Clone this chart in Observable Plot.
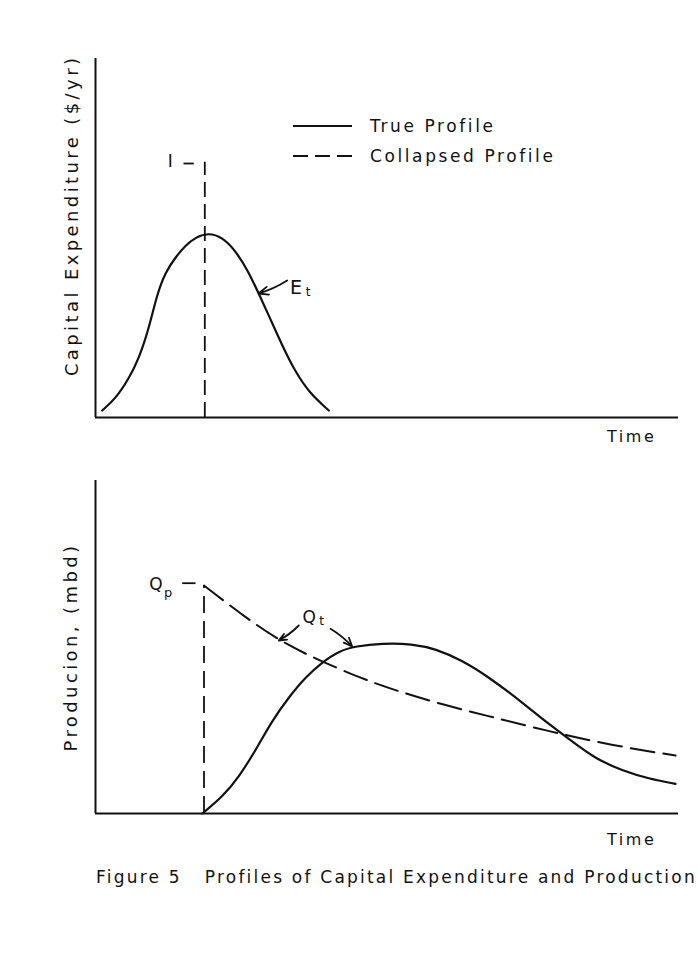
<!DOCTYPE html>
<html>
<head>
<meta charset="utf-8">
<script src="https://cdn.jsdelivr.net/npm/d3@7"></script>
<script src="https://cdn.jsdelivr.net/npm/@observablehq/plot@0.6"></script>
<style>
  html, body { margin: 0; padding: 0; background: #fff; }
  #wrap { position: relative; width: 699px; height: 970px; background: #fff; font-family: "DejaVu Sans", sans-serif; color: #111; }
  #top, #bottom { position: absolute; left: 0; }
  #top { top: 0; }
  #bottom { top: 460px; }
  #legend { position: absolute; left: 293px; top: 111px; font-size: 17px; letter-spacing: 2.6px; }
  #legend .row { display: flex; align-items: center; height: 30px; }
  #legend svg { margin-right: 18px; }
  #caption { position: absolute; left: 96px; top: 867px; font-size: 17px; letter-spacing: 2.22px; white-space: pre; }
</style>
</head>
<body>
<div id="wrap">
  <div id="top"></div>
  <div id="bottom"></div>
  <div id="legend"></div>
  <div id="caption"></div>
</div>
<script>
// ---- Data (time 0..100, value 0..100) ----
const capexTime  = [1.15, 3.43, 5.71, 7.43, 9.14, 10.58, 12.01, 13.72, 15.44, 17.15, 19.43, 21.73, 24.01, 26.3, 28.01, 29.73, 32.02, 34.31, 36.6, 40.02];
const capexValue = [1.95, 5.21, 10.78, 16.35, 24.71, 34.46, 40.47, 44.65, 47.91, 50.22, 51.45, 50.22, 46.52, 40.47, 34.46, 28.41, 20.06, 12.62, 7.05, 1.95];

const prodTime  = [18.3, 21.73, 24.58, 27.44, 30.31, 33.16, 36.02, 38.89, 41.73, 44.6, 49.18, 54.32, 58.32, 62.9, 67.46, 72.04, 76.62, 81.18, 85.76, 90.34, 94.91, 99.49];
const prodValue = [0, 4.9, 10.9, 18.92, 27.93, 34.93, 40.93, 45.44, 48.74, 50.24, 51.14, 50.96, 49.46, 45.95, 40.93, 34.93, 28.44, 22.43, 16.42, 12.91, 10.42, 8.92];

const collapsedTime  = [18.61, 24.87, 31.44, 37.74, 45.75, 51.46, 60.03, 68.61, 77.19, 88.63, 99.49];
const collapsedValue = [68.47, 59.97, 51.95, 46.46, 40.45, 36.94, 32.43, 28.74, 24.92, 20.42, 17.42];

const investTime = 18.75;   // time of capital expenditure I
const investLevel = 71.1;   // height of marker I
const seriesNames = ["True Profile", "Collapsed Profile"];
const axisLabelsY = ["Capital Expenditure ($/yr)", "Producion, (mbd)"];
const axisLabelX = "Time";
const captionText = "Figure 5   Profiles of Capital Expenditure and Production";

// annotation labels (data units)
const topLabels = [
  {x: 13.04, y: 71.3, text: "I", size: 17},
  {x: 34.6, y: 36.07, text: "E", size: 19},
  {x: 36.7, y: 35.0, text: "t", size: 12}
];
const topTicks = [{x1: 15.09, x2: 16.86, y1: 70.75, y2: 70.75}];
const topArrows = [{x1: 32.88, y1: 38.16, x2: 27.96, y2: 34.54}];

const botLabels = [
  {x: 10.58, y: 68.9, text: "Q", size: 17},
  {x: 12.69, y: 66.2, text: "p", size: 13},
  {x: 36.88, y: 58.8, text: "Q", size: 17},
  {x: 39.02, y: 57.9, text: "t", size: 12}
];
const botTicks = [{x1: 14.87, x2: 17.15, y1: 69.16, y2: 69.16}];
const botArrows = [
  {x1: 34.87, y1: 56.46, x2: 31.44, y2: 51.95},
  {x1: 40.31, y1: 55.47, x2: 44.03, y2: 50.15}
];

const INK = "#111";
const capex = capexTime.map((t, i) => ({t, v: capexValue[i]}));
const prod = prodTime.map((t, i) => ({t, v: prodValue[i]}));
const collapsed = collapsedTime.map((t, i) => ({t, v: collapsedValue[i]}));

function annoMarks(labels, ticks, arrows) {
  return [
    Plot.text(labels, {x: "x", y: "y", text: "text", fontSize: "size", fill: INK, textAnchor: "middle"}),
    Plot.link(ticks, {x1: "x1", y1: "y1", x2: "x2", y2: "y2", stroke: INK, strokeWidth: 1.8}),
    Plot.arrow(arrows, {x1: "x1", y1: "y1", x2: "x2", y2: "y2", stroke: INK, strokeWidth: 1.8, headLength: 9, headAngle: 45, bend: 8})
  ];
}

const common = {
  width: 699,
  x: {domain: [0, 100], axis: null},
  y: {domain: [0, 100], axis: null},
  style: {background: "transparent", fontFamily: "DejaVu Sans, sans-serif", overflow: "visible", color: INK}
};

const topPlot = Plot.plot({
  ...common,
  height: 460, marginLeft: 95, marginRight: 21, marginTop: 58, marginBottom: 43,
  marks: [
    Plot.ruleX([0], {stroke: INK, strokeWidth: 2}),
    Plot.ruleY([0], {stroke: INK, strokeWidth: 2}),
    Plot.ruleX([investTime], {y1: 0, y2: investLevel, stroke: INK, strokeWidth: 1.8, strokeDasharray: "15,7"}),
    Plot.line(capex, {x: "t", y: "v", curve: "basis", stroke: INK, strokeWidth: 2.2}),
    ...annoMarks(topLabels, topTicks, topArrows),
    Plot.text([axisLabelX], {x: 100, y: 0, textAnchor: "end", lineAnchor: "top", dx: -22, dy: 13, fontSize: 16, fill: INK}),
    Plot.text([axisLabelsY[0]], {x: 0, y: 56.3, rotate: -90, dx: -23, fontSize: 18, fill: INK, textAnchor: "middle", className: "ylab"})
  ]
});

const botPlot = Plot.plot({
  ...common,
  height: 400, marginLeft: 95, marginRight: 21, marginTop: 20, marginBottom: 47,
  marks: [
    Plot.ruleX([0], {stroke: INK, strokeWidth: 2}),
    Plot.ruleY([0], {stroke: INK, strokeWidth: 2}),
    Plot.ruleX([collapsedTime[0]], {y1: 0, y2: collapsedValue[0], stroke: INK, strokeWidth: 1.8, strokeDasharray: "17,8"}),
    Plot.line(collapsed, {x: "t", y: "v", curve: "basis", stroke: INK, strokeWidth: 2, strokeDasharray: "24,9"}),
    Plot.line(prod, {x: "t", y: "v", curve: "basis", stroke: INK, strokeWidth: 2.2}),
    ...annoMarks(botLabels, botTicks, botArrows),
    Plot.text([axisLabelX], {x: 100, y: 0, textAnchor: "end", lineAnchor: "top", dx: -22, dy: 20, fontSize: 16, fill: INK}),
    Plot.text([axisLabelsY[1]], {x: 0, y: 50, rotate: -90, dx: -24, fontSize: 18, fill: INK, textAnchor: "middle", className: "ylab"})
  ]
});

document.getElementById("top").appendChild(topPlot);
document.getElementById("bottom").appendChild(botPlot);

// letter spacing for the lettering-style text
for (const svg of [topPlot, botPlot]) {
  svg.querySelectorAll("text").forEach(t => t.setAttribute("letter-spacing", "2.6"));
  svg.querySelectorAll(".ylab text").forEach(t => t.setAttribute("letter-spacing", "3.4"));
}

// legend
const legend = document.getElementById("legend");
seriesNames.forEach((name, i) => {
  const row = document.createElement("div");
  row.className = "row";
  const dash = i === 0 ? null : "15,7";
  row.innerHTML = `<svg width="59" height="6"><line x1="0" x2="59" y1="3" y2="3" stroke="${INK}" stroke-width="2"${dash ? ` stroke-dasharray="${dash}"` : ""}/></svg><span>${name}</span>`;
  legend.appendChild(row);
});
document.getElementById("caption").textContent = captionText;
</script>
</body>
</html>
